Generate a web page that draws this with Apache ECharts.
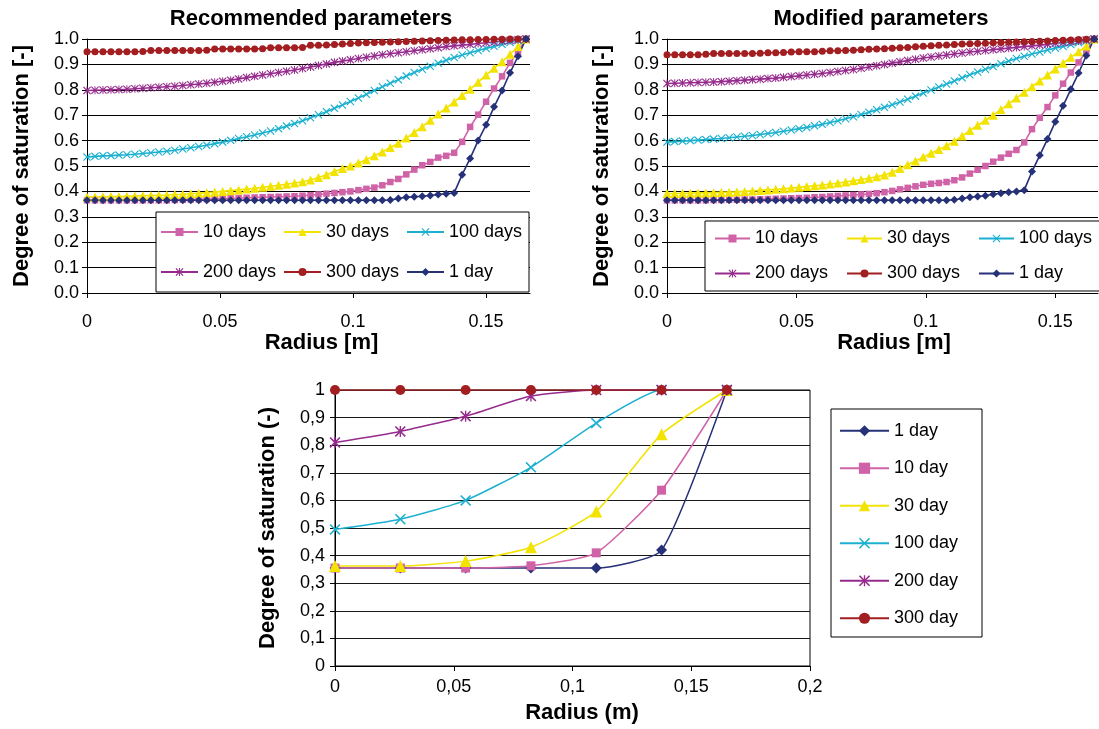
<!DOCTYPE html>
<html>
<head>
<meta charset="utf-8">
<script src="https://cdn.jsdelivr.net/npm/echarts@6/dist/echarts.min.js"></script>
<style>
html,body{margin:0;padding:0;background:#fff;}
#chart{width:1099px;height:729px;}
</style>
</head>
<body>
<div id="chart"></div>
<script>
// ---------- DATA ----------
const radius = [0,0.003,0.006,0.009,0.012,0.015,0.018,0.021,0.024,0.027,0.03,0.033,0.036,0.039,0.042,0.045,0.048,0.051,0.054,0.057,0.06,0.063,0.066,0.069,0.072,0.075,0.078,0.081,0.084,0.087,0.09,0.093,0.096,0.099,0.102,0.105,0.108,0.111,0.114,0.117,0.12,0.123,0.126,0.129,0.132,0.135,0.138,0.141,0.144,0.147,0.15,0.153,0.156,0.159,0.162,0.165];

// Recommended parameters
const rec10 = [.365,.365,.365,.365,.365,.365,.365,.365,.365,.365,.365,
 .366,.367,.368,.369,.370,.371,.372,.373,.374,.375,
 .376,.377,.378,.379,.380,.381,.383,.385,.388,.391,
 .394,.397,.400,.405,.410,.415,.424,.437,.449,.467,
 .486,.503,.516,.533,.540,.552,.595,.654,.702,.753,
 .805,.853,.906,.950,1.0];
const rec30 = [.378,.378,.379,.380,.380,.381,.382,.383,.384,.385,
 .386,.388,.389,.391,.393,.395,.397,.400,.403,.406,
 .409,.412,.416,.420,.424,.428,.433,.438,.445,.455,
 .466,.478,.490,.500,.512,.525,.540,.555,.573,.590,
 .610,.632,.655,.680,.705,.728,.752,.778,.802,.830,
 .858,.885,.910,.940,.970,1.0];
const rec100 = [.535,.538,.540,.541,.543,.544,.546,.549,.552,.555,
 .558,.562,.567,.572,.577,.582,.588,.594,.601,.608,
 .615,.622,.630,.638,.647,.657,.667,.678,.690,.702,
 .714,.727,.740,.754,.768,.782,.797,.812,.826,.840,
 .854,.868,.881,.893,.905,.916,.927,.937,.946,.955,
 .963,.971,.979,.986,.993,1.0];
const rec200 = [.797,.798,.799,.800,.801,.802,.804,.806,.808,.810,
 .812,.814,.817,.820,.823,.826,.830,.834,.838,.843,
 .848,.853,.858,.863,.868,.873,.878,.884,.890,.896,
 .902,.908,.913,.918,.923,.928,.933,.938,.942,.946,
 .950,.954,.958,.962,.966,.970,.973,.976,.979,.982,
 .985,.988,.991,.994,.997,1.0];
const rec300 = [.950,.950,.950,.950,.950,.950,.950,.951,.955,.955,
 .955,.955,.955,.955,.955,.956,.961,.961,.961,.961,
 .961,.961,.962,.966,.966,.966,.966,.967,.975,.975,
 .976,.978,.980,.982,.984,.985,.986,.987,.988,.989,
 .990,.991,.992,.993,.994,.995,.996,.997,.997,.998,
 .998,.999,.999,1.0,1.0,1.0];
const rec1 = [.365,.365,.365,.365,.365,.365,.365,.365,.365,.365,
 .365,.365,.365,.365,.365,.365,.365,.365,.365,.365,
 .365,.365,.365,.365,.365,.365,.365,.365,.365,.365,
 .365,.365,.365,.365,.365,.365,.365,.365,
 .366,.372,.377,.379,.381,.384,.388,.391,.394,
 .466,.530,.600,.662,.733,.797,.867,.932,1.0];

// Modified parameters
const mod10 = [.365,.365,.365,.365,.365,.365,.366,.366,.367,.367,
 .368,.368,.369,.370,.371,.372,.373,.374,.375,.377,
 .378,.380,.382,.384,.386,.388,.390,.393,.397,.402,
 .408,.414,.420,.426,.430,.433,.437,.444,.455,.470,
 .485,.500,.517,.533,.548,.563,.593,.645,.690,.732,
 .778,.824,.868,.908,.953,1.0];
const mod30 = [.392,.392,.393,.393,.394,.394,.395,.396,.397,.398,
 .400,.402,.404,.406,.408,.410,.413,.416,.419,.422,
 .425,.429,.433,.437,.442,.447,.452,.458,.465,.475,
 .490,.505,.520,.535,.550,.565,.580,.597,.618,.640,
 .660,.680,.700,.722,.745,.768,.790,.812,.835,.858,
 .882,.905,.928,.950,.972,1.0];
const mod100 = [.594,.596,.598,.600,.602,.604,.606,.608,.611,.614,
 .617,.620,.624,.628,.632,.637,.642,.647,.652,.658,
 .664,.671,.678,.686,.694,.703,.712,.721,.731,.741,
 .752,.763,.775,.787,.799,.811,.823,.835,.847,.859,
 .870,.881,.892,.903,.913,.923,.932,.941,.949,.957,
 .964,.971,.978,.985,.992,1.0];
const mod200 = [.825,.826,.827,.828,.829,.830,.831,.832,.834,.836,
 .838,.840,.842,.844,.846,.849,.852,.855,.858,.861,
 .864,.868,.872,.876,.880,.885,.890,.895,.900,.905,
 .910,.915,.920,.925,.929,.933,.937,.941,.945,.949,
 .952,.955,.958,.961,.964,.967,.970,.973,.976,.979,
 .983,.986,.989,.992,.996,1.0];
const mod300 = [.938,.938,.938,.938,.938,.940,.943,.943,.943,.943,
 .943,.943,.944,.946,.946,.947,.949,.950,.950,.950,
 .952,.954,.954,.955,.956,.958,.960,.961,.962,.964,
 .966,.967,.969,.971,.973,.975,.976,.978,.980,.981,
 .982,.983,.985,.986,.987,.988,.989,.990,.991,.992,
 .994,.995,.996,.998,.999,1.0];
const mod1 = [.365,.365,.365,.365,.365,.365,.365,.365,.365,.365,
 .365,.365,.365,.365,.365,.365,.365,.365,.365,.365,
 .365,.365,.365,.365,.365,.365,.365,.365,.365,.365,
 .365,.365,.365,.365,.365,.365,.365,
 .367,.372,.377,.380,.383,.389,.393,.397,.400,.405,
 .478,.542,.606,.674,.737,.802,.866,.935,1.0];

// Bottom chart
const radiusB = [0,0.0275,0.055,0.0825,0.11,0.1375,0.165];
const b1   = [0.355,0.355,0.355,0.355,0.355,0.42,1.0];
const b10  = [0.355,0.355,0.355,0.363,0.41,0.637,1.0];
const b30  = [0.362,0.362,0.38,0.43,0.56,0.84,1.0];
const b100 = [0.495,0.532,0.6,0.72,0.88,1.0,1.0];
const b200 = [0.81,0.85,0.905,0.978,1.0,1.0,1.0];
const b300 = [1,1,1,1,1,1,1];

const topNames = ['10 days','30 days','100 days','200 days','300 days','1 day'];
const botNames = ['1 day','10 day','30 day','100 day','200 day','300 day'];
const titles = ['Recommended parameters','Modified parameters'];

// ---------- STYLE ----------
const FONT = "'Liberation Sans', Arial, Helvetica, sans-serif";
const C = {d1:'#263178', d10:'#D063A8', d30:'#F2E300', d100:'#1BB0CF', d200:'#962A8D', d300:'#A21E21'};
const X_PATH = 'path://M0,1L1,0L5,4L9,0L10,1L6,5L10,9L9,10L5,6L1,10L0,9L4,5Z';
const STAR_PATH = 'path://M0,1L1,0L5,4L9,0L10,1L6,5L10,9L9,10L5,6L1,10L0,9L4,5Z M4.4,0L5.6,0L5.6,10L4.4,10Z';

function pairs(xs, ys){ return xs.map((x,i)=>[x, ys[i]]); }

function topSeries(idx, sets){
  const spec = [
    {name:'10 days', d:sets[0], c:C.d10, s:'rect'},
    {name:'30 days', d:sets[1], c:C.d30, s:'triangle'},
    {name:'100 days', d:sets[2], c:C.d100, s:X_PATH},
    {name:'200 days', d:sets[3], c:C.d200, s:STAR_PATH},
    {name:'300 days', d:sets[4], c:C.d300, s:'circle'},
    {name:'1 day', d:sets[5], c:C.d1, s:'diamond'}
  ];
  const sizes = {'rect':6.5,'triangle':9,'circle':7,'diamond':8};
  return spec.map(o=>({
    type:'line', name:o.name, xAxisIndex:idx, yAxisIndex:idx,
    data:pairs(radius, o.d), symbol:o.s,
    symbolSize: sizes[o.s] || 8,
    lineStyle:{color:o.c, width:1.6}, itemStyle:{color:o.c},
    showAllSymbol:true, animation:false
  }));
}

const botSpec = [
  {name:'1 day', d:b1, c:C.d1, s:'diamond', sz:11},
  {name:'10 day', d:b10, c:C.d10, s:'rect', sz:9},
  {name:'30 day', d:b30, c:C.d30, s:'triangle', sz:12},
  {name:'100 day', d:b100, c:C.d100, s:X_PATH, sz:11},
  {name:'200 day', d:b200, c:C.d200, s:STAR_PATH, sz:11},
  {name:'300 day', d:b300, c:C.d300, s:'circle', sz:10}
];
const bottomSeries = botSpec.map(o=>({
  type:'line', name:o.name, xAxisIndex:2, yAxisIndex:2,
  data:pairs(radiusB, o.d), symbol:o.s, symbolSize:o.sz, smooth:0.18,
  lineStyle:{color:o.c, width:1.5}, itemStyle:{color:o.c}, animation:false
}));

const labelStyle = {fontSize:18, color:'#000', fontFamily:FONT};
const nameStyle = {fontSize:22, fontWeight:'bold', color:'#000', fontFamily:FONT};
const blackLine = {lineStyle:{color:'#000', width:1}};

function topX(gi, pad){
  return {type:'value', gridIndex:gi, min:0, max:0.1665, interval:0.05,
    name:'Radius [m]', nameLocation:'middle', nameGap:38,
    nameTextStyle:Object.assign({padding:[0,0,0,pad]}, nameStyle),
    axisLine:Object.assign({show:true}, blackLine), axisTick:{show:true, length:5, lineStyle:{color:'#000'}},
    splitLine:{show:false},
    axisLabel:Object.assign({margin:20, showMaxLabel:false,
      formatter:v=>String(Math.round(v*100)/100)}, labelStyle)};
}
function topY(gi){
  return {type:'value', gridIndex:gi, min:0, max:1, interval:0.1,
    name:'Degree of saturation [-]', nameLocation:'middle', nameGap:54, nameTextStyle:nameStyle,
    axisLine:Object.assign({show:true}, blackLine), axisTick:{show:true, length:5, lineStyle:{color:'#000'}},
    splitLine:{show:true, lineStyle:{color:'#000', width:1}},
    axisLabel:Object.assign({margin:8, formatter:v=>(Math.round(v*10)/10).toFixed(1)}, labelStyle)};
}

const topLegendBase = {
  data:topNames, orient:'horizontal', itemGap:0, selectedMode:false,
  borderColor:'#000', borderWidth:1, backgroundColor:'#fff'
};

const option = {
  backgroundColor:'#fff',
  animation:false,
  title:[
    {text:titles[0], left:306, top:3, textAlign:'center', textStyle:nameStyle},
    {text:titles[1], left:876, top:3, textAlign:'center', textStyle:nameStyle}
  ],
  grid:[
    {left:87, top:39, width:443, height:254},
    {left:667, top:39, width:431, height:254},
    {left:335, top:390, width:475, height:276, show:true, borderColor:'#000', borderWidth:1, backgroundColor:'transparent'}
  ],
  xAxis:[
    topX(0, 26),
    topX(1, 23),
    {type:'value', gridIndex:2, min:0, max:0.2, interval:0.05,
     name:'Radius (m)', nameLocation:'middle', nameGap:36,
     nameTextStyle:Object.assign({padding:[0,0,0,19]}, nameStyle),
     axisLine:Object.assign({show:true}, blackLine), axisTick:{show:true, length:5, lineStyle:{color:'#000'}},
     splitLine:{show:false},
     axisLabel:Object.assign({margin:12, formatter:v=>String(Math.round(v*100)/100).replace('.',',')}, labelStyle)}
  ],
  yAxis:[
    topY(0), topY(1),
    {type:'value', gridIndex:2, min:0, max:1, interval:0.1,
     name:'Degree of saturation (-)', nameLocation:'middle', nameGap:56, nameTextStyle:nameStyle,
     axisLine:Object.assign({show:true}, blackLine), axisTick:{show:true, length:5, lineStyle:{color:'#000'}},
     splitLine:{show:true, lineStyle:{color:'#1a1a1a', width:1}},
     axisLabel:Object.assign({margin:10, formatter:v=>String(Math.round(v*10)/10).replace('.',',')}, labelStyle)}
  ],
  legend:[
    Object.assign({}, topLegendBase, {left:156, top:212, width:390, itemWidth:37, itemHeight:10,
      padding:[0,0,0,4], textStyle:Object.assign({width:80, lineHeight:40}, labelStyle)}),
    Object.assign({}, topLegendBase, {left:705, top:221, width:420, itemWidth:35, itemHeight:10,
      padding:[0,0,0,9], textStyle:Object.assign({width:91, lineHeight:35}, labelStyle)}),
    {data:botNames, orient:'vertical', left:831, top:409, itemGap:0, itemWidth:49, itemHeight:14,
     selectedMode:false, borderColor:'#000', borderWidth:1, backgroundColor:'#fff',
     padding:[3,8,0,8], textStyle:Object.assign({width:80, lineHeight:37.5}, labelStyle)}
  ],
  series:[].concat(
    topSeries(0, [rec10, rec30, rec100, rec200, rec300, rec1]),
    topSeries(1, [mod10, mod30, mod100, mod200, mod300, mod1]),
    bottomSeries
  )
};

const chart = echarts.init(document.getElementById('chart'), null, {renderer:'canvas'});
chart.setOption(option);
</script>
</body>
</html>
